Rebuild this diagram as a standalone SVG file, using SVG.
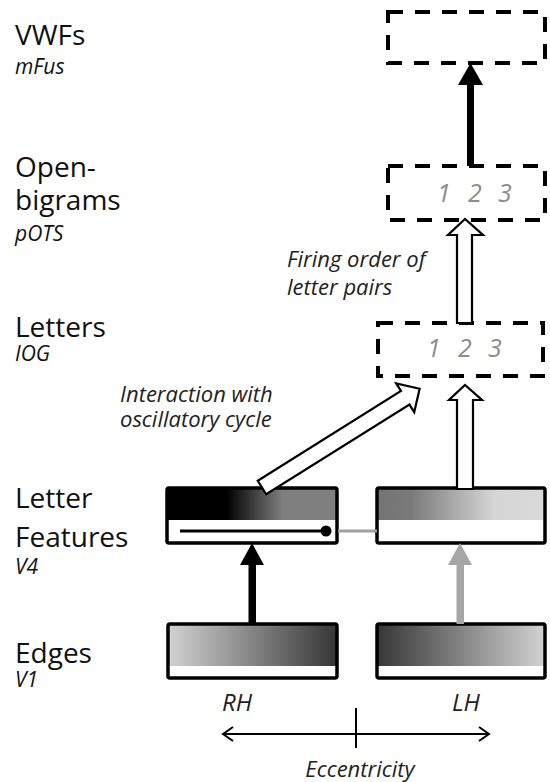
<svg xmlns="http://www.w3.org/2000/svg" width="550" height="782" viewBox="0 0 550 782">
  <style>
    .lbl { font-family: "Open Sans", "Liberation Sans", sans-serif; font-size: 28px; fill: #111; }
    .sub { font-family: "Open Sans", "Liberation Sans", sans-serif; font-size: 21px; font-style: italic; fill: #111; }
    .note { font-family: "Open Sans", "Liberation Sans", sans-serif; font-size: 22px; font-style: italic; fill: #222; }
    .hemi { font-family: "Open Sans", "Liberation Sans", sans-serif; font-size: 24px; font-style: italic; fill: #222; }
    .num { font-family: "Open Sans", "Liberation Sans", sans-serif; font-size: 25px; font-style: italic; fill: #8c8c8c; text-anchor: middle; }
    .dash { fill: none; stroke: #000; stroke-width: 4; stroke-dasharray: 15 12; }
    .frame { fill: none; stroke: #000; stroke-width: 3.5; }
    .open { fill: #fff; stroke: #000; stroke-width: 2.2; stroke-linejoin: miter; }
    .axis { fill: none; stroke: #000; stroke-width: 2; }
  </style>
  <defs>
    <linearGradient id="gFeatL" x1="0" y1="0" x2="1" y2="0">
      <stop offset="0" stop-color="#000"/>
      <stop offset="0.35" stop-color="#000"/>
      <stop offset="0.68" stop-color="#7f7f7f"/>
      <stop offset="1" stop-color="#7f7f7f"/>
    </linearGradient>
    <linearGradient id="gFeatR" x1="0" y1="0" x2="1" y2="0">
      <stop offset="0" stop-color="#747474"/>
      <stop offset="0.2" stop-color="#7a7a7a"/>
      <stop offset="0.7" stop-color="#d6d6d6"/>
      <stop offset="1" stop-color="#d9d9d9"/>
    </linearGradient>
    <linearGradient id="gEdgeL" x1="0" y1="0" x2="1" y2="0">
      <stop offset="0" stop-color="#d2d2d2"/>
      <stop offset="1" stop-color="#363636"/>
    </linearGradient>
    <linearGradient id="gEdgeR" x1="0" y1="0" x2="1" y2="0">
      <stop offset="0" stop-color="#363636"/>
      <stop offset="1" stop-color="#d2d2d2"/>
    </linearGradient>
  </defs>

  <!-- level labels -->
  <g id="labels">
    <text class="lbl" x="15" y="45">VWFs</text>
    <text class="sub" x="15" y="74">mFus</text>
    <text class="lbl" x="15" y="177">Open-</text>
    <text class="lbl" x="15" y="210">bigrams</text>
    <text class="sub" x="15" y="241">pOTS</text>
    <text class="lbl" x="15" y="337">Letters</text>
    <text class="sub" x="15" y="361">IOG</text>
    <text class="lbl" x="15" y="508">Letter</text>
    <text class="lbl" x="15" y="547">Features</text>
    <text class="sub" x="15" y="574">V4</text>
    <text class="lbl" x="15" y="663">Edges</text>
    <text class="sub" x="15" y="687">V1</text>
  </g>

  <!-- VWF stage -->
  <g id="vwfs">
    <rect class="dash" x="388" y="12" width="157" height="51"/>
  </g>

  <!-- open-bigram stage -->
  <g id="bigrams">
    <rect class="dash" x="388" y="166" width="157" height="54"/>
    <text class="num" x="444" y="202">1</text>
    <text class="num" x="475" y="202">2</text>
    <text class="num" x="505" y="202">3</text>
  </g>

  <!-- letter stage -->
  <g id="letters">
    <rect class="dash" x="378" y="323" width="165" height="53"/>
    <text class="num" x="434" y="357">1</text>
    <text class="num" x="465" y="357">2</text>
    <text class="num" x="495" y="357">3</text>
  </g>

  <!-- letter features, right hemisphere field -->
  <g id="features-rh">
    <rect x="167" y="488" width="170" height="55" fill="#fff"/>
    <rect x="167" y="488" width="170" height="32" fill="url(#gFeatL)"/>
    <rect class="frame" x="167" y="488" width="170" height="55" rx="2"/>
  </g>

  <!-- letter features, left hemisphere field -->
  <g id="features-lh">
    <path d="M 380 525.5 A 5.5 5.5 0 0 0 380 536.5 Z" fill="#a0a0a0"/>
    <rect x="377" y="488" width="168" height="55" fill="#fff"/>
    <rect x="377" y="488" width="168" height="32" fill="url(#gFeatR)"/>
    <rect class="frame" x="377" y="488" width="168" height="55" rx="2"/>
  </g>

  <!-- edges, right hemisphere field -->
  <g id="edges-rh">
    <rect x="168" y="624" width="169" height="54" fill="#fff"/>
    <rect x="168" y="624" width="169" height="42" fill="url(#gEdgeL)"/>
    <rect class="frame" x="168" y="624" width="169" height="54" rx="2"/>
  </g>

  <!-- edges, left hemisphere field -->
  <g id="edges-lh">
    <rect x="377" y="624" width="168" height="54" fill="#fff"/>
    <rect x="377" y="624" width="168" height="42" fill="url(#gEdgeR)"/>
    <rect class="frame" x="377" y="624" width="168" height="54" rx="2"/>
  </g>

  <!-- connectors -->
  <g id="connectors">
    <!-- edges to features -->
    <rect x="248.5" y="563" width="7.5" height="61" fill="#000"/>
    <polygon points="240,565 252,543 264,565" fill="#000"/>
    <rect x="456.5" y="563" width="7.5" height="61" fill="#a6a6a6"/>
    <polygon points="448,565 460,543 472,565" fill="#a6a6a6"/>

    <!-- lateral inhibition line inside the RH feature box -->
    <line x1="180" y1="531" x2="326" y2="531" stroke="#000" stroke-width="3"/>
    <circle cx="326" cy="531" r="5.5" fill="#000"/>
    <line x1="338" y1="531" x2="377" y2="531" stroke="#a0a0a0" stroke-width="3"/>

    <!-- features to letters -->
    <polygon class="open" points="457,489 457,400 449,400 465,385 482,400 473,400 473,489"/>

    <!-- oscillatory interaction -->
    <g transform="translate(262 487.5) rotate(-32.07)">
      <polygon class="open" points="0,-8 169,-8 169,-17 186,0 169,17 169,8 0,8"/>
    </g>

    <!-- letters to open-bigrams -->
    <polygon class="open" points="457,323 457,235 448,235 465,219 483,235 472,235 472,323"/>

    <!-- open-bigrams to VWFs -->
    <rect x="467" y="83" width="7" height="83" fill="#000"/>
    <polygon points="458,85 470.5,63 483,85" fill="#000"/>
  </g>

  <!-- annotations -->
  <g id="annotations">
    <text class="note" x="120" y="402">Interaction with</text>
    <text class="note" x="120" y="427">oscillatory cycle</text>
    <text class="note" x="287" y="267">Firing order of</text>
    <text class="note" x="287" y="295">letter pairs</text>
  </g>

  <!-- eccentricity axis -->
  <g id="axis">
    <text class="hemi" x="222" y="711">RH</text>
    <text class="hemi" x="452" y="711">LH</text>
    <line class="axis" x1="223" y1="734" x2="489" y2="734"/>
    <polyline class="axis" points="233,727 223,734 233,741"/>
    <polyline class="axis" points="479,727 489,734 479,741"/>
    <line class="axis" x1="356" y1="708" x2="356" y2="748"/>
    <text class="note" x="360" y="777" text-anchor="middle">Eccentricity</text>
  </g>
</svg>
